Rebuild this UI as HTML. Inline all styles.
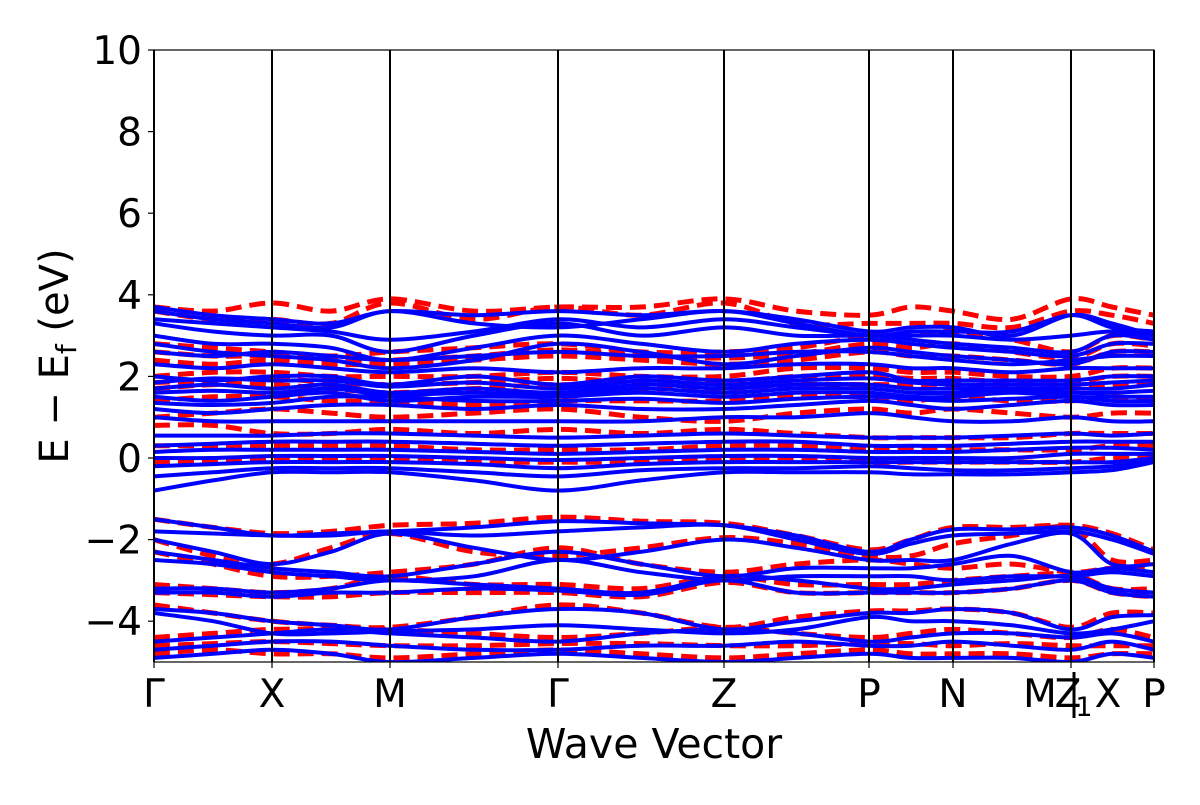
<!DOCTYPE html>
<html><head><meta charset="utf-8"><style>
html,body{margin:0;padding:0;background:#fff;}
svg text{font-family:"DejaVu Sans","Liberation Sans",sans-serif;fill:#000;}
</style></head><body>
<svg id="chart" width="1200" height="800" viewBox="0 0 1200 800" xmlns="http://www.w3.org/2000/svg">
<defs><clipPath id="clip"><rect x="154" y="50" width="1000" height="612"/></clipPath></defs>
<g id="bands" clip-path="url(#clip)"></g>
<g id="frame"></g>
</svg>
<script>
const kSamples=[0,59,118,177,236,320,404,487,570,642,715,757,799,858,917,958,1000];
const kNodes=[0,118,236,404,570,715,799,917,1000];
const yTicks=[-4,-2,0,2,4,6,8,10];
const blueBands=[
[-1.5,-1.7,-1.9,-1.85,-1.8,-1.7,-1.55,-1.6,-1.65,-1.9,-2.3,-2.0,-1.75,-1.75,-1.7,-1.9,-2.3],
[-1.8,-1.85,-1.9,-1.9,-1.8,-1.9,-1.8,-1.7,-1.65,-2.0,-2.35,-2.1,-1.9,-1.85,-1.8,-2.0,-2.35],
[-2.0,-2.3,-2.6,-2.3,-1.85,-2.2,-2.5,-2.3,-2.0,-2.2,-2.5,-2.5,-2.5,-2.1,-1.85,-2.6,-2.6],
[-2.3,-2.5,-2.7,-2.8,-2.9,-2.6,-2.3,-2.6,-2.9,-2.7,-2.7,-2.7,-2.6,-2.4,-2.8,-2.7,-2.8],
[-2.5,-2.6,-2.8,-2.9,-3.0,-2.9,-2.5,-2.8,-3.0,-2.9,-2.9,-2.9,-3.0,-2.9,-2.9,-2.8,-2.9],
[-3.2,-3.2,-3.3,-3.2,-3.0,-3.1,-3.2,-3.3,-2.9,-3.0,-3.2,-3.2,-3.1,-3.0,-2.9,-3.2,-3.3],
[-3.3,-3.3,-3.4,-3.3,-3.3,-3.2,-3.25,-3.35,-3.0,-3.3,-3.3,-3.3,-3.3,-3.2,-3.0,-3.3,-3.4],
[-3.7,-3.8,-4.0,-4.1,-4.2,-3.9,-3.7,-3.8,-4.2,-4.0,-3.8,-3.8,-3.7,-3.8,-4.2,-3.9,-3.85],
[-3.8,-4.0,-4.3,-4.3,-4.25,-4.2,-4.1,-4.2,-4.3,-4.2,-3.9,-4.0,-4.0,-4.1,-4.3,-4.2,-4.0],
[-4.5,-4.4,-4.3,-4.2,-4.3,-4.4,-4.5,-4.3,-4.2,-4.3,-4.5,-4.4,-4.3,-4.3,-4.4,-4.3,-4.5],
[-4.7,-4.6,-4.5,-4.5,-4.6,-4.7,-4.7,-4.6,-4.6,-4.5,-4.6,-4.6,-4.5,-4.6,-4.7,-4.5,-4.7],
[-4.9,-4.8,-4.7,-4.8,-5.0,-4.9,-4.8,-4.9,-5.0,-4.9,-4.8,-4.9,-4.9,-4.9,-5.0,-4.8,-4.9],
[-0.8,-0.55,-0.35,-0.35,-0.35,-0.55,-0.8,-0.55,-0.35,-0.35,-0.35,-0.4,-0.4,-0.4,-0.35,-0.3,-0.1],
[-0.45,-0.35,-0.25,-0.25,-0.25,-0.35,-0.45,-0.3,-0.25,-0.25,-0.2,-0.25,-0.3,-0.3,-0.25,-0.2,-0.05],
[-0.2,-0.15,-0.1,-0.1,-0.1,-0.15,-0.25,-0.15,-0.1,-0.1,-0.1,-0.1,-0.1,-0.1,-0.1,-0.1,0.0],
[0.0,0.0,0.05,0.05,0.05,0.0,-0.05,0.0,0.05,0.05,0.0,0.0,0.0,0.0,0.1,0.1,0.1],
[0.15,0.2,0.2,0.2,0.2,0.15,0.1,0.15,0.2,0.2,0.15,0.15,0.15,0.2,0.25,0.25,0.2],
[0.3,0.35,0.4,0.4,0.4,0.35,0.3,0.35,0.4,0.4,0.3,0.3,0.3,0.35,0.4,0.4,0.4],
[0.55,0.55,0.55,0.6,0.6,0.55,0.5,0.55,0.6,0.55,0.5,0.5,0.5,0.55,0.6,0.55,0.6],
[1.0,0.9,0.9,0.9,0.9,0.9,0.9,0.9,1.0,1.0,1.1,1.0,0.9,0.9,1.0,0.9,0.9],
[1.2,1.1,1.2,1.3,1.3,1.2,1.3,1.2,1.2,1.3,1.4,1.3,1.2,1.3,1.4,1.3,1.3],
[1.35,1.3,1.35,1.5,1.5,1.4,1.4,1.45,1.35,1.45,1.5,1.45,1.4,1.45,1.5,1.4,1.4],
[1.5,1.4,1.5,1.6,1.4,1.5,1.5,1.6,1.5,1.6,1.6,1.5,1.5,1.6,1.5,1.5,1.5],
[1.6,1.65,1.6,1.7,1.55,1.6,1.55,1.7,1.6,1.7,1.7,1.6,1.6,1.65,1.6,1.6,1.65],
[1.7,1.8,1.7,1.8,1.6,1.7,1.6,1.8,1.7,1.8,1.8,1.7,1.7,1.7,1.7,1.7,1.8],
[1.85,1.95,1.9,1.9,1.75,1.85,1.7,1.9,1.8,1.9,1.95,1.85,1.8,1.8,1.8,1.85,1.9],
[2.0,1.9,2.0,2.0,1.8,2.0,1.8,2.0,1.9,2.0,2.1,1.9,1.9,1.9,1.9,2.0,2.0],
[2.3,2.2,2.3,2.2,2.1,2.2,2.1,2.2,2.2,2.3,2.3,2.2,2.2,2.1,2.2,2.2,2.2],
[2.6,2.5,2.6,2.5,2.4,2.5,2.6,2.5,2.5,2.6,2.6,2.5,2.4,2.3,2.4,2.5,2.5],
[2.8,2.6,2.5,2.4,2.2,2.4,2.8,2.6,2.3,2.5,2.7,2.6,2.5,2.4,2.3,2.6,2.6],
[3.0,2.8,2.8,2.7,2.4,2.7,3.0,2.8,2.6,2.8,2.9,2.8,2.7,2.6,2.5,2.8,2.8],
[3.3,3.1,3.0,3.0,2.6,3.0,3.3,3.0,3.2,3.0,3.0,2.9,2.8,2.7,2.6,3.0,2.9],
[3.4,3.3,3.2,3.1,2.9,3.1,3.4,3.2,3.4,3.2,3.0,3.0,3.0,2.9,3.0,3.1,3.0],
[3.6,3.4,3.3,3.2,3.6,3.3,3.2,3.4,3.6,3.3,3.0,3.1,3.1,3.1,3.5,3.2,3.1],
[3.7,3.5,3.4,3.3,3.6,3.5,3.6,3.5,3.6,3.4,3.1,3.2,3.2,3.0,3.5,3.3,3.0]
];
const redBands=[
[3.7,3.6,3.8,3.6,3.9,3.6,3.7,3.7,3.9,3.6,3.5,3.7,3.6,3.4,3.9,3.7,3.5],
[3.6,3.4,3.4,3.3,3.8,3.4,3.7,3.5,3.8,3.3,3.3,3.3,3.3,3.2,3.6,3.5,3.3],
[2.8,2.7,2.6,2.5,2.6,2.7,2.8,2.6,2.6,2.7,3.0,3.0,3.1,2.9,2.6,3.0,2.9],
[2.6,2.5,2.5,2.4,2.4,2.5,2.65,2.5,2.45,2.55,2.8,2.7,2.8,2.6,2.45,2.8,2.75],
[2.4,2.3,2.4,2.3,2.3,2.4,2.5,2.4,2.3,2.4,2.6,2.5,2.5,2.4,2.3,2.6,2.6],
[2.0,2.1,2.1,2.0,2.0,2.0,2.1,2.0,2.0,2.2,2.2,2.1,2.1,2.0,2.0,2.2,2.2],
[1.85,1.9,1.95,1.85,1.8,1.85,1.95,1.85,1.85,2.0,2.0,1.95,1.95,1.85,1.85,2.0,2.0],
[1.7,1.8,1.8,1.7,1.6,1.7,1.8,1.7,1.7,1.8,1.8,1.8,1.8,1.7,1.7,1.8,1.8],
[1.4,1.5,1.5,1.4,1.4,1.3,1.4,1.4,1.4,1.5,1.5,1.4,1.5,1.4,1.4,1.5,1.4],
[1.0,1.1,1.2,1.1,1.0,1.1,1.2,1.0,0.9,1.1,1.2,1.1,1.2,1.1,1.0,1.1,1.1],
[0.8,0.8,0.6,0.6,0.7,0.6,0.7,0.6,0.7,0.6,0.5,0.5,0.5,0.5,0.6,0.6,0.6],
[0.3,0.3,0.3,0.3,0.3,0.2,0.2,0.2,0.3,0.3,0.2,0.2,0.2,0.2,0.2,0.3,0.3],
[-0.1,-0.1,0.0,0.0,0.0,-0.1,-0.1,-0.1,0.0,0.0,-0.1,-0.1,-0.1,-0.1,-0.1,0.0,0.0],
[-1.5,-1.7,-1.85,-1.8,-1.65,-1.6,-1.45,-1.55,-1.6,-1.9,-2.25,-2.0,-1.7,-1.7,-1.65,-1.85,-2.25],
[-2.0,-2.4,-2.6,-2.2,-1.85,-2.3,-2.4,-2.2,-1.95,-2.1,-2.4,-2.4,-2.1,-1.9,-1.7,-2.5,-2.5],
[-2.3,-2.6,-2.9,-2.9,-2.8,-2.6,-2.2,-2.6,-2.8,-2.6,-2.5,-2.6,-2.7,-2.6,-2.8,-2.7,-2.7],
[-3.1,-3.2,-3.3,-3.2,-2.9,-3.1,-3.1,-3.2,-2.9,-3.1,-3.1,-3.1,-3.0,-2.9,-2.85,-3.2,-3.2],
[-3.3,-3.35,-3.4,-3.4,-3.3,-3.3,-3.3,-3.4,-3.05,-3.3,-3.3,-3.3,-3.3,-3.2,-3.0,-3.3,-3.4],
[-3.6,-3.8,-4.0,-4.1,-4.15,-3.9,-3.6,-3.8,-4.15,-3.9,-3.75,-3.75,-3.7,-3.8,-4.15,-3.8,-3.8],
[-4.4,-4.3,-4.2,-4.2,-4.2,-4.3,-4.4,-4.3,-4.15,-4.3,-4.4,-4.3,-4.2,-4.3,-4.4,-4.2,-4.4],
[-4.6,-4.55,-4.5,-4.55,-4.6,-4.6,-4.55,-4.55,-4.6,-4.6,-4.55,-4.55,-4.6,-4.55,-4.6,-4.6,-4.6],
[-4.8,-4.7,-4.8,-4.8,-4.9,-4.8,-4.7,-4.8,-4.9,-4.8,-4.7,-4.8,-4.8,-4.8,-4.9,-4.8,-4.8]
];
const NS='http://www.w3.org/2000/svg';
const X0=154,X1=1154,Y0=662,Y1=50,EMIN=-5,EMAX=10;
function xs(k){return X0+(k-kSamples[0])/(kSamples[kSamples.length-1]-kSamples[0])*(X1-X0);}
function ys(e){return Y0-(e-EMIN)/(EMAX-EMIN)*(Y0-Y1);}
function mk(tag,attrs,parent){const el=document.createElementNS(NS,tag);for(const a in attrs)el.setAttribute(a,attrs[a]);parent.appendChild(el);return el;}
function smoothPath(vals){
  const p=vals.map((v,i)=>[xs(kSamples[i]),ys(v)]);
  let d='M'+p[0][0].toFixed(1)+','+p[0][1].toFixed(1);
  for(let i=0;i<p.length-1;i++){
    const p0=p[Math.max(i-1,0)],p1=p[i],p2=p[i+1],p3=p[Math.min(i+2,p.length-1)];
    const c1=[p1[0]+(p2[0]-p0[0])/6,p1[1]+(p2[1]-p0[1])/6];
    const c2=[p2[0]-(p3[0]-p1[0])/6,p2[1]-(p3[1]-p1[1])/6];
    d+='C'+c1[0].toFixed(1)+','+c1[1].toFixed(1)+' '+c2[0].toFixed(1)+','+c2[1].toFixed(1)+' '+p2[0].toFixed(1)+','+p2[1].toFixed(1);
  }
  return d;
}
const bands=document.getElementById('bands');
redBands.forEach(b=>{
  const el=mk('path',{d:smoothPath(b),fill:'none',stroke:'#ff0000','stroke-width':5,'stroke-dasharray':'16,8'},bands);
  
  
});
blueBands.forEach(b=>{
  const el=mk('path',{d:smoothPath(b),fill:'none',stroke:'#0000ff','stroke-width':4},bands);
  
  
});
const frame=document.getElementById('frame');
kNodes.forEach(k=>{
  const x=xs(k);
  const l=mk('line',{x1:x,x2:x,y1:Y1,y2:Y0,stroke:'#000','stroke-width':2},frame);
  
  
  const t=mk('line',{x1:x,x2:x,y1:Y0,y2:Y0+6,stroke:'#000','stroke-width':1.2},frame);
  
  
});
const box=mk('rect',{x:X0,y:Y1,width:X1-X0,height:Y0-Y1,fill:'none',stroke:'#000','stroke-width':1.2},frame);


yTicks.forEach(v=>{
  const y=ys(v);
  const t=mk('line',{x1:X0-6,x2:X0,y1:y,y2:y,stroke:'#000','stroke-width':1.2},frame);
  
  
  const tx=mk('text',{x:X0-12,y:y+14,'text-anchor':'end','font-size':39},frame);
  tx.textContent=(v<0?'\u2212':'')+Math.abs(v);
  
  
});
const kLabels=[['Γ',154],['X',272],['M',390],['Γ',558],['Z',724],['P',869],['N',953],['M',1040],['Z',1068],['X',1108],['P',1154]];
kLabels.forEach(([s,x])=>{
  const t=mk('text',{x:x,y:707,'text-anchor':'middle','font-size':39},frame);
  t.textContent=s;
  
  
});
const bar=mk('line',{x1:1074,x2:1074,y1:672,y2:718,stroke:'#000','stroke-width':3},frame);


const sub=mk('text',{x:1084,y:716,'text-anchor':'middle','font-size':27},frame);
sub.textContent='1';


const xt=mk('text',{x:654,y:758,'text-anchor':'middle','font-size':41},frame);
xt.textContent='Wave Vector';


const yt=mk('text',{x:0,y:0,'text-anchor':'middle','font-size':40,transform:'translate(68,356) rotate(-90)'},frame);
yt.innerHTML='E \u2212 E<tspan font-size="28" dy="8">f</tspan><tspan dy="-8"> (eV)</tspan>';


</script>
</body></html>
